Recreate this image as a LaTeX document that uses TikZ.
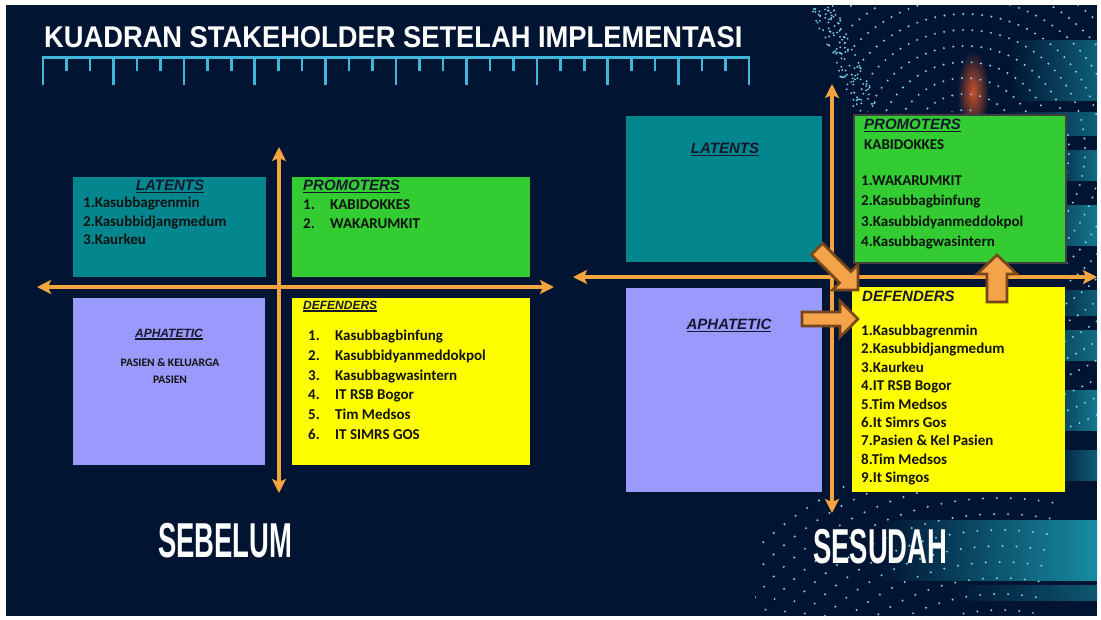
\documentclass[tikz,border=0pt]{standalone}
\usepackage{fontspec}
\setmainfont{Carlito}
\newfontfamily\headfont{Liberation Sans}
\newfontfamily\titlefont[FakeStretch=0.91]{Liberation Sans}
\newfontfamily\bigfont[FakeStretch=0.56]{Liberation Sans}
\usetikzlibrary{arrows.meta,calc}

\definecolor{bg}{HTML}{011533}
\definecolor{rulerc}{HTML}{3FB6DA}
\definecolor{axisc}{HTML}{F6A440}
\definecolor{latentc}{HTML}{03868E}
\definecolor{promoc}{HTML}{33CC33}
\definecolor{aphac}{HTML}{9A99FC}
\definecolor{defendc}{HTML}{FFFF00}
\definecolor{headc}{HTML}{16182E}
\definecolor{itemc}{HTML}{121212}
\definecolor{bfill}{HTML}{F5A34A}
\definecolor{bline}{HTML}{77461A}
\definecolor{dotc}{HTML}{7ED6EE}
\definecolor{streakc}{HTML}{1A9AAE}
\definecolor{glowc}{HTML}{C8502A}

% underlined heading text
\newcommand\hd[1]{\setbox0\hbox{#1}\rlap{\rule[-2.2pt]{\wd0}{1.1pt}}\box0}

\tikzset{
  quad/.style={draw=none, inner sep=0pt, anchor=north west},
  head/.style={inner sep=0pt, text=headc, font=\headfont\bfseries\itshape\fontsize{15}{18}\selectfont},
  smallhead/.style={head, font=\headfont\bfseries\itshape\fontsize{12}{14}\selectfont},
  item/.style={inner sep=0pt, anchor=base west, text=itemc, font=\bfseries\fontsize{15}{18}\selectfont},
  axisarrow/.style={draw=axisc, line width=4pt,
    {Stealth[length=14pt,width=14pt,inset=3pt]}-{Stealth[length=14pt,width=14pt,inset=3pt]}},
  blockarrow/.style={fill=bfill, draw=bline, line width=2.6pt, line join=miter},
  bigword/.style={inner sep=0pt, anchor=base west, text=white, font=\bigfont\bfseries\fontsize{49}{49}\selectfont},
}

\begin{document}
\begin{tikzpicture}[x=1pt, y=-1pt]
\useasboundingbox (0,0) rectangle (1101,619);
\fill[white] (0,0) rectangle (1101,619);
\fill[bg] (6,5) rectangle (1097,616);

% teal light streaks on the right
\foreach \ya/\yb/\xa/\s in {40/100/1010/55, 112/135/1000/55, 150/180/1040/65, 205/245/1020/75,
    290/315/1040/55, 330/360/1000/65, 390/430/1030/75, 450/480/1050/55, 520/580/880/90, 585/600/950/50}
  \shade[left color=bg, right color=streakc!\s!bg] (\xa,\ya) rectangle (1097,\yb);

% warm glow
\shade[inner color=glowc, outer color=bg] (973,92) ellipse (16 and 42);

% dotted ripples, upper right
\begin{scope}
  \clip (850,5) rectangle (1097,112) (1065,5) rectangle (1097,616);
  \foreach \r in {40,56,...,300} {
    \pgfmathsetmacro\st{540/\r}
    \pgfmathsetmacro\sec{-80+\st}
    \foreach \a in {-80,\sec,...,190}
      \fill[dotc] ({965+\r*cos(\a)},{150-\r*sin(\a)}) circle (1.1);
  }
\end{scope}

% dotted strand at the top
\pgfmathsetseed{7}
\foreach \i in {1,...,130} {
  \pgfmathsetmacro\tt{rnd}
  \pgfmathsetmacro\uu{rnd-0.5}
  \fill[dotc] ({822+45*\tt+22*\uu},{6+104*\tt-8*\uu}) circle (1.0);
}

% dotted waves, lower right
\begin{scope}
  \clip (755,468) rectangle (1097,616) (822,290) rectangle (852,500);
  \foreach \r in {190,206,...,350} {
    \pgfmathsetmacro\st{800/\r}
    \pgfmathsetmacro\sec{80+\st}
    \foreach \a in {80,\sec,...,200}
      \fill[dotc] ({1000+\r*cos(\a)},{800-\r*sin(\a)}) circle (1.1);
  }
\end{scope}

% title and ruler
\node[anchor=base west, inner sep=0pt, text=white,
      font=\titlefont\bfseries\fontsize{30}{30}\selectfont] (title) at (44,47)
      {KUADRAN STAKEHOLDER SETELAH IMPLEMENTASI};
\draw[rulerc, line width=3pt] (43,57) -- (749,57);
\foreach \i in {0,...,30} {
  \pgfmathsetmacro\xx{43+\i*23.533}
  \pgfmathsetmacro\yy{ifthenelse(mod(\i,3)==0,85,71)}
  \draw[rulerc, line width=2.6pt] (\xx,56) -- (\xx,\yy);
}

% ---------------- before ----------------
\node[quad, fill=latentc, minimum width=193pt, minimum height=100pt] (l-lat) at (73,177) {};
\node[quad, fill=promoc,  minimum width=238pt, minimum height=100pt] (l-pro) at (292,177) {};
\node[quad, fill=aphac,   minimum width=192pt, minimum height=167pt] (l-aph) at (73,298) {};
\node[quad, fill=defendc, minimum width=238pt, minimum height=167pt] (l-def) at (292,298) {};

\coordinate (lh-w) at (37,287);
\coordinate (lh-e) at (554,287);
\coordinate (lv-n) at (279,147);
\coordinate (lv-s) at (279,493);
\draw[axisarrow] (lh-w) -- (lh-e);
\draw[axisarrow] (lv-n) -- (lv-s);

\node[head, anchor=base] (l-lat-h) at (170,190.4) {\hd{LATENTS}};
\foreach \txt [count=\i] in {Kasubbagrenmin,Kasubbidjangmedum,Kaurkeu}
  \node[item] (ll\i) at (83,{207.5+(\i-1)*18.5}) {\i.\txt};

\node[head, anchor=base west] (l-pro-h) at (303,190.4) {\hd{PROMOTERS}};
\foreach \txt [count=\i] in {KABIDOKKES,WAKARUMKIT}
  \node[item] (lp\i) at (303,{209.5+(\i-1)*19}) {\makebox[27pt][l]{\i.}\txt};

\node[smallhead, anchor=base] (l-aph-h) at (169,337.3) {\hd{APHATETIC}};
\node[item, anchor=base, font=\bfseries\fontsize{11.5}{14}\selectfont] (l-aph-1) at (170,366) {PASIEN \& KELUARGA};
\node[item, anchor=base, font=\bfseries\fontsize{11.5}{14}\selectfont] (l-aph-2) at (170,383) {PASIEN};

\node[smallhead, anchor=base west] (l-def-h) at (303,309.3) {\hd{DEFENDERS}};
\foreach \txt [count=\i] in {Kasubbagbinfung,Kasubbidyanmeddokpol,Kasubbagwasintern,IT RSB Bogor,Tim Medsos,IT SIMRS GOS}
  \node[item] (ld\i) at (308,{340.5+(\i-1)*19.8}) {\makebox[27pt][l]{\i.}\txt};

\node[bigword] (before) at (158,557) {SEBELUM};

% ---------------- after ----------------
\node[quad, fill=latentc, minimum width=196pt, minimum height=146pt] (r-lat) at (626,116) {};
\node[quad, fill=promoc, draw=black!75, line width=1.5pt, minimum width=212pt, minimum height=148pt] (r-pro) at (853,114) {};
\node[quad, fill=aphac,   minimum width=196pt, minimum height=204pt] (r-aph) at (626,288) {};
\node[quad, fill=defendc, minimum width=213pt, minimum height=205pt] (r-def) at (852,287) {};

\coordinate (rh-w) at (573,277);
\coordinate (rh-e) at (1097,277);
\coordinate (rv-n) at (832,84);
\coordinate (rv-s) at (832,513);
\draw[axisarrow] (rh-w) -- (rh-e);
\draw[axisarrow] (rv-n) -- (rv-s);

\node[head, anchor=base] (r-lat-h) at (725,153.4) {\hd{LATENTS}};
\node[head, anchor=base west] (r-pro-h) at (864,129.4) {\hd{PROMOTERS}};
\node[item] (r-pro-0) at (864,149.5) {KABIDOKKES};
\foreach \txt [count=\i] in {WAKARUMKIT,Kasubbagbinfung,Kasubbidyanmeddokpol,Kasubbagwasintern}
  \node[item] (rp\i) at (861,{185.5+(\i-1)*20.3}) {\i.\txt};

\node[head, anchor=base] (r-aph-h) at (729,329.4) {\hd{APHATETIC}};
\node[head, anchor=base west] (r-def-h) at (862,301.4) {DEFENDERS};
\foreach \txt [count=\i] in {Kasubbagrenmin,Kasubbidjangmedum,Kaurkeu,IT RSB Bogor,Tim Medsos,It Simrs Gos,Pasien \& Kel Pasien,Tim Medsos,It Simgos}
  \node[item] (rd\i) at (861,{335.5+(\i-1)*18.4}) {\i.\txt};

\node[bigword] (after) at (813,563) {SESUDAH};

% movements between quadrants
\begin{scope}[shift={(858,290)}, rotate=-45]
  \draw[blockarrow] (0,0) -- (-18,18) -- (-18,8) -- (-58,8) -- (-58,-8) -- (-18,-8) -- (-18,-18) -- cycle;
\end{scope}
\draw[blockarrow] (858,319) -- (840,301) -- (840,312) -- (802,312) -- (802,326) -- (840,326) -- (840,337) -- cycle;
\draw[blockarrow] (997,255) -- (1017,274) -- (1007,274) -- (1007,302) -- (987,302) -- (987,274) -- (977,274) -- cycle;
\end{tikzpicture}
\end{document}
